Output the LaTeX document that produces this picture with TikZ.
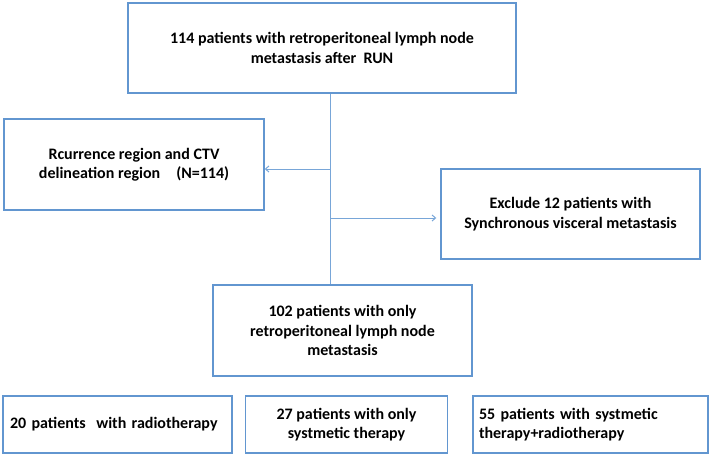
\documentclass[tikz,border=0pt]{standalone}
\usepackage{fontspec}
\setmainfont{Carlito}
\usepackage{tikz}
\usetikzlibrary{positioning,arrows.meta}
\definecolor{boxblue}{RGB}{98,150,208}
\definecolor{lineblue}{RGB}{120,166,216}
\tikzset{
  stage/.style={draw=boxblue, line width=1.4pt, fill=white, font=\fontsize{16}{19.5}\selectfont\bfseries, align=center, inner sep=2pt},
  arm/.style={stage, minimum height=57pt},
  flow/.style={-{Straight Barb[length=3.5pt,width=6pt]}, line width=1pt, draw=lineblue},
  trunk/.style={line width=1pt, draw=lineblue},
}
\begin{document}
\begin{tikzpicture}[x=1pt,y=-1pt]
\useasboundingbox (0,0) rectangle (709,455);
\node[stage, minimum width=388pt, minimum height=90pt] (cohort) at (322,48) {114 patients with retroperitoneal lymph node\\metastasis after\ \ RUN};
\node[stage, minimum width=260pt, minimum height=91pt] (region) at (134,164.5) {Rcurrence region and CTV\\delineation region\quad(N=114)};
\node[stage, minimum width=259pt, minimum height=90pt] (exclude) at (570.5,214) {Exclude 12 patients with\\Synchronous visceral metastasis};
\node[stage, minimum width=259pt, minimum height=91pt] (nodeonly) at (342.5,330.5) {102 patients with only\\retroperitoneal lymph node\\metastasis};
\node[arm, minimum width=229pt, text width=215pt, align=left] (radio) at (117.5,424.5) {20 patients\ \ with radiotherapy};
\node[arm, minimum width=202pt] (systemic) at (346.5,424.5) {27 patients with only\\systmetic therapy};
\node[arm, minimum width=235pt, text width=223pt, align=left] (combined) at (590.5,424.5) {55 patients with systmetic\\therapy+radiotherapy};
\coordinate (jtop) at (330,0 |- cohort.south);
\coordinate (jbot) at (330,0 |- nodeonly.north);
\coordinate (jleft) at (330,169);
\coordinate (jright) at (330,218);
\draw[trunk] (jtop) -- (jbot);
\draw[flow] (jleft) -- (jleft -| region.east);
\draw[flow, shorten >=4pt] (jright) -- (jright -| exclude.west);
\end{tikzpicture}
\end{document}
